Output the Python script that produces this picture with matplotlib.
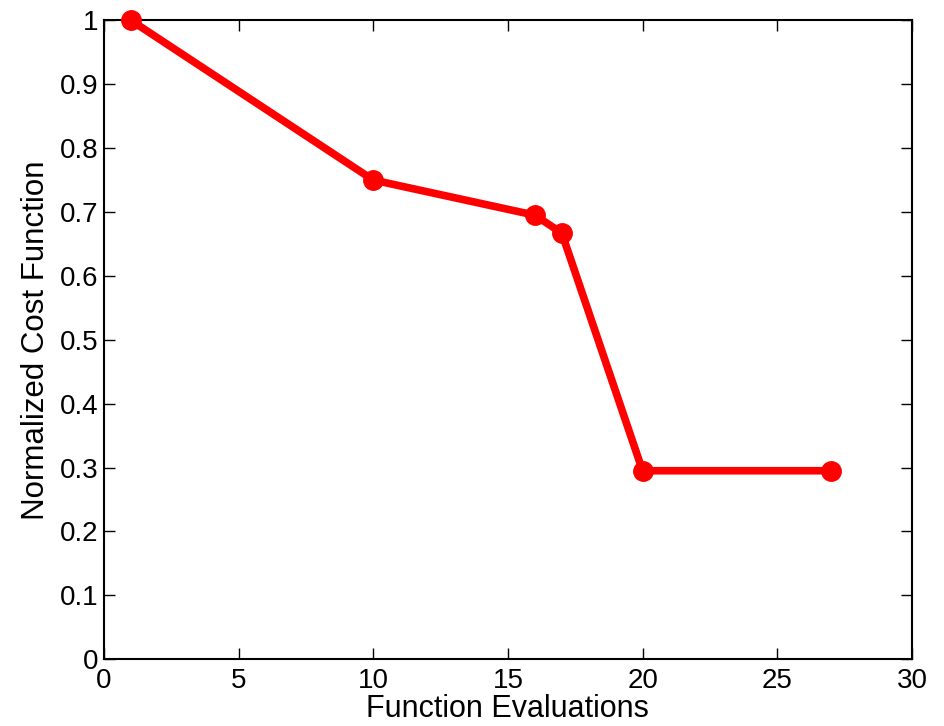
import matplotlib
matplotlib.use("Agg")
import matplotlib.pyplot as plt

evals = [1, 10, 16, 17, 20, 27]
cost = [1.0, 0.75, 0.695, 0.667, 0.295, 0.295]

plt.rcParams['font.family'] = ['Liberation Sans', 'DejaVu Sans']

fig = plt.figure(figsize=(9.45, 7.26), dpi=100)
ax = fig.add_axes([0.110, 0.092, 0.855, 0.880])

ax.plot(evals, cost, color='#ff0000', linewidth=5.5, marker='o',
        markersize=14, clip_on=False, zorder=3)

ax.set_xlim(0, 30)
ax.set_ylim(0, 1)
ax.set_xticks(range(0, 31, 5))
ax.set_yticks([i / 10 for i in range(11)])
ax.set_yticklabels(['0', '0.1', '0.2', '0.3', '0.4', '0.5', '0.6', '0.7', '0.8', '0.9', '1'])

ax.tick_params(direction='in', length=8, width=1, top=True, right=True,
               labelsize=20)
ax.tick_params(axis='x', pad=6)
ax.tick_params(axis='y', pad=4)
for s in ax.spines.values():
    s.set_linewidth(1.5)

ax.set_xlabel('Function Evaluations', fontsize=22, labelpad=0.5)
ax.set_ylabel('Normalized Cost Function', fontsize=22.5, labelpad=6)

fig.savefig('out.png', dpi=100)
